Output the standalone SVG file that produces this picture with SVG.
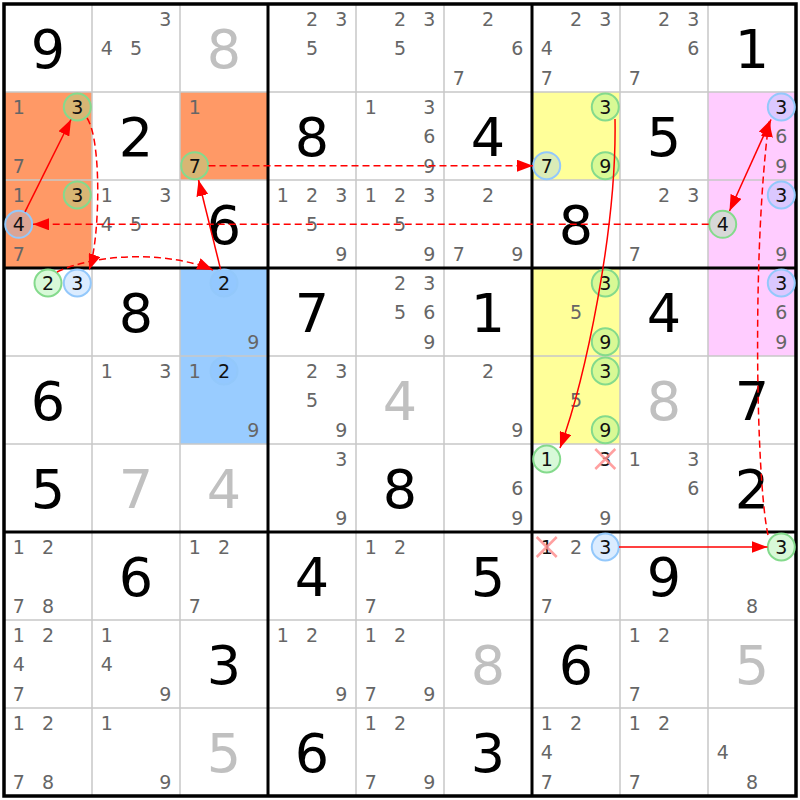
<svg xmlns="http://www.w3.org/2000/svg" width="800" height="800" viewBox="0 0 800 800">
<style>
text{font-family:"DejaVu Sans",Verdana,sans-serif;text-anchor:middle}
.c{font-size:19px;fill:#666}
.h{fill:#111}
.v{font-size:54px;fill:#000}
.g{font-size:54px;fill:#c0c0c0}
.gr{fill:#90ee90;fill-opacity:.35;stroke:#84da8c;stroke-width:2}
.bl{fill:#87bfff;fill-opacity:.3;stroke:#93c8fb;stroke-width:2}
.x{stroke:#ff8f8f;stroke-width:2.5;stroke-opacity:.85}
.thin{stroke:#c8c8c8;stroke-width:1.5}
.thick{stroke:#000;stroke-width:3}
.a{stroke:#f00;stroke-width:1.5;fill:none}
.d{stroke:#f00;stroke-width:1.5;fill:none;stroke-dasharray:7 4}
</style>
<defs>
<marker id="ah" markerUnits="userSpaceOnUse" markerWidth="16" markerHeight="12" refX="16" refY="6" orient="auto-start-reverse"><path d="M0,0 L16,6 L0,12 z" fill="#f00"/></marker>
</defs>
<rect width="800" height="800" fill="#fff"/>
<g id="fills">
<rect x="4" y="92" width="88" height="176" fill="#ff9966"/>
<rect x="180" y="92" width="88" height="88" fill="#ff9966"/>
<rect x="532" y="92" width="88" height="88" fill="#ffff99"/>
<rect x="532" y="268" width="88" height="176" fill="#ffff99"/>
<rect x="708" y="92" width="88" height="264" fill="#ffccff"/>
<rect x="180" y="268" width="88" height="176" fill="#99ccff"/>
</g>
<g id="grid">
<path class="thin" d="M92 4V796M180 4V796M356 4V796M444 4V796M620 4V796M708 4V796M4 92H796M4 180H796M4 356H796M4 444H796M4 620H796M4 708H796"/>
<path class="thick" d="M268 4V796M532 4V796M4 268H796M4 532H796"/>
<rect x="4" y="4" width="792" height="792" fill="none" stroke="#000" stroke-width="3.5"/>
</g>
<!-- Row 0 -->
<g id="r0c0" transform="translate(4,4)"><text class="v" x="44" y="64">9</text></g>
<g id="r0c1" transform="translate(92,4)"><text class="c" x="73.3" y="22">3</text><text class="c" x="14.7" y="51.3">4</text><text class="c" x="44" y="51.3">5</text></g>
<g id="r0c2" transform="translate(180,4)"><text class="g" x="44" y="64">8</text></g>
<g id="r0c3" transform="translate(268,4)"><text class="c" x="44" y="22">2</text><text class="c" x="73.3" y="22">3</text><text class="c" x="44" y="51.3">5</text></g>
<g id="r0c4" transform="translate(356,4)"><text class="c" x="44" y="22">2</text><text class="c" x="73.3" y="22">3</text><text class="c" x="44" y="51.3">5</text></g>
<g id="r0c5" transform="translate(444,4)"><text class="c" x="44" y="22">2</text><text class="c" x="73.3" y="51.3">6</text><text class="c" x="14.7" y="80.7">7</text></g>
<g id="r0c6" transform="translate(532,4)"><text class="c" x="44" y="22">2</text><text class="c" x="73.3" y="22">3</text><text class="c" x="14.7" y="51.3">4</text><text class="c" x="14.7" y="80.7">7</text></g>
<g id="r0c7" transform="translate(620,4)"><text class="c" x="44" y="22">2</text><text class="c" x="73.3" y="22">3</text><text class="c" x="73.3" y="51.3">6</text><text class="c" x="14.7" y="80.7">7</text></g>
<g id="r0c8" transform="translate(708,4)"><text class="v" x="44" y="64">1</text></g>
<!-- Row 1 -->
<g id="r1c0" transform="translate(4,92)"><text class="c" x="14.7" y="22">1</text><circle class="gr" cx="73.3" cy="15" r="13.5"/><text class="c h" x="73.3" y="22">3</text><text class="c" x="14.7" y="80.7">7</text></g>
<g id="r1c1" transform="translate(92,92)"><text class="v" x="44" y="64">2</text></g>
<g id="r1c2" transform="translate(180,92)"><text class="c" x="14.7" y="22">1</text><circle class="gr" cx="14.7" cy="73.7" r="13.5"/><text class="c h" x="14.7" y="80.7">7</text></g>
<g id="r1c3" transform="translate(268,92)"><text class="v" x="44" y="64">8</text></g>
<g id="r1c4" transform="translate(356,92)"><text class="c" x="14.7" y="22">1</text><text class="c" x="73.3" y="22">3</text><text class="c" x="73.3" y="51.3">6</text><text class="c" x="73.3" y="80.7">9</text></g>
<g id="r1c5" transform="translate(444,92)"><text class="v" x="44" y="64">4</text></g>
<g id="r1c6" transform="translate(532,92)"><circle class="gr" cx="73.3" cy="15" r="13.5"/><text class="c h" x="73.3" y="22">3</text><circle class="bl" cx="14.7" cy="73.7" r="13.5"/><text class="c h" x="14.7" y="80.7">7</text><circle class="gr" cx="73.3" cy="73.7" r="13.5"/><text class="c h" x="73.3" y="80.7">9</text></g>
<g id="r1c7" transform="translate(620,92)"><text class="v" x="44" y="64">5</text></g>
<g id="r1c8" transform="translate(708,92)"><circle class="bl" cx="73.3" cy="15" r="13.5"/><text class="c h" x="73.3" y="22">3</text><text class="c" x="73.3" y="51.3">6</text><text class="c" x="73.3" y="80.7">9</text></g>
<!-- Row 2 -->
<g id="r2c0" transform="translate(4,180)"><text class="c" x="14.7" y="22">1</text><circle class="gr" cx="73.3" cy="15" r="13.5"/><text class="c h" x="73.3" y="22">3</text><circle class="bl" cx="14.7" cy="44.3" r="13.5"/><text class="c h" x="14.7" y="51.3">4</text><text class="c" x="14.7" y="80.7">7</text></g>
<g id="r2c1" transform="translate(92,180)"><text class="c" x="14.7" y="22">1</text><text class="c" x="73.3" y="22">3</text><text class="c" x="14.7" y="51.3">4</text><text class="c" x="44" y="51.3">5</text></g>
<g id="r2c2" transform="translate(180,180)"><text class="v" x="44" y="64">6</text></g>
<g id="r2c3" transform="translate(268,180)"><text class="c" x="14.7" y="22">1</text><text class="c" x="44" y="22">2</text><text class="c" x="73.3" y="22">3</text><text class="c" x="44" y="51.3">5</text><text class="c" x="73.3" y="80.7">9</text></g>
<g id="r2c4" transform="translate(356,180)"><text class="c" x="14.7" y="22">1</text><text class="c" x="44" y="22">2</text><text class="c" x="73.3" y="22">3</text><text class="c" x="44" y="51.3">5</text><text class="c" x="73.3" y="80.7">9</text></g>
<g id="r2c5" transform="translate(444,180)"><text class="c" x="44" y="22">2</text><text class="c" x="14.7" y="80.7">7</text><text class="c" x="73.3" y="80.7">9</text></g>
<g id="r2c6" transform="translate(532,180)"><text class="v" x="44" y="64">8</text></g>
<g id="r2c7" transform="translate(620,180)"><text class="c" x="44" y="22">2</text><text class="c" x="73.3" y="22">3</text><text class="c" x="14.7" y="80.7">7</text></g>
<g id="r2c8" transform="translate(708,180)"><circle class="bl" cx="73.3" cy="15" r="13.5"/><text class="c h" x="73.3" y="22">3</text><circle class="gr" cx="14.7" cy="44.3" r="13.5"/><text class="c h" x="14.7" y="51.3">4</text><text class="c" x="73.3" y="80.7">9</text></g>
<!-- Row 3 -->
<g id="r3c0" transform="translate(4,268)"><circle class="gr" cx="44" cy="15" r="13.5"/><text class="c h" x="44" y="22">2</text><circle class="bl" cx="73.3" cy="15" r="13.5"/><text class="c h" x="73.3" y="22">3</text></g>
<g id="r3c1" transform="translate(92,268)"><text class="v" x="44" y="64">8</text></g>
<g id="r3c2" transform="translate(180,268)"><circle class="bl" cx="44" cy="15" r="13.5"/><text class="c h" x="44" y="22">2</text><text class="c" x="73.3" y="80.7">9</text></g>
<g id="r3c3" transform="translate(268,268)"><text class="v" x="44" y="64">7</text></g>
<g id="r3c4" transform="translate(356,268)"><text class="c" x="44" y="22">2</text><text class="c" x="73.3" y="22">3</text><text class="c" x="44" y="51.3">5</text><text class="c" x="73.3" y="51.3">6</text><text class="c" x="73.3" y="80.7">9</text></g>
<g id="r3c5" transform="translate(444,268)"><text class="v" x="44" y="64">1</text></g>
<g id="r3c6" transform="translate(532,268)"><circle class="gr" cx="73.3" cy="15" r="13.5"/><text class="c h" x="73.3" y="22">3</text><text class="c" x="44" y="51.3">5</text><circle class="gr" cx="73.3" cy="73.7" r="13.5"/><text class="c h" x="73.3" y="80.7">9</text></g>
<g id="r3c7" transform="translate(620,268)"><text class="v" x="44" y="64">4</text></g>
<g id="r3c8" transform="translate(708,268)"><circle class="bl" cx="73.3" cy="15" r="13.5"/><text class="c h" x="73.3" y="22">3</text><text class="c" x="73.3" y="51.3">6</text><text class="c" x="73.3" y="80.7">9</text></g>
<!-- Row 4 -->
<g id="r4c0" transform="translate(4,356)"><text class="v" x="44" y="64">6</text></g>
<g id="r4c1" transform="translate(92,356)"><text class="c" x="14.7" y="22">1</text><text class="c" x="73.3" y="22">3</text></g>
<g id="r4c2" transform="translate(180,356)"><text class="c" x="14.7" y="22">1</text><circle class="bl" cx="44" cy="15" r="13.5"/><text class="c h" x="44" y="22">2</text><text class="c" x="73.3" y="80.7">9</text></g>
<g id="r4c3" transform="translate(268,356)"><text class="c" x="44" y="22">2</text><text class="c" x="73.3" y="22">3</text><text class="c" x="44" y="51.3">5</text><text class="c" x="73.3" y="80.7">9</text></g>
<g id="r4c4" transform="translate(356,356)"><text class="g" x="44" y="64">4</text></g>
<g id="r4c5" transform="translate(444,356)"><text class="c" x="44" y="22">2</text><text class="c" x="73.3" y="80.7">9</text></g>
<g id="r4c6" transform="translate(532,356)"><circle class="gr" cx="73.3" cy="15" r="13.5"/><text class="c h" x="73.3" y="22">3</text><text class="c" x="44" y="51.3">5</text><circle class="gr" cx="73.3" cy="73.7" r="13.5"/><text class="c h" x="73.3" y="80.7">9</text></g>
<g id="r4c7" transform="translate(620,356)"><text class="g" x="44" y="64">8</text></g>
<g id="r4c8" transform="translate(708,356)"><text class="v" x="44" y="64">7</text></g>
<!-- Row 5 -->
<g id="r5c0" transform="translate(4,444)"><text class="v" x="44" y="64">5</text></g>
<g id="r5c1" transform="translate(92,444)"><text class="g" x="44" y="64">7</text></g>
<g id="r5c2" transform="translate(180,444)"><text class="g" x="44" y="64">4</text></g>
<g id="r5c3" transform="translate(268,444)"><text class="c" x="73.3" y="22">3</text><text class="c" x="73.3" y="80.7">9</text></g>
<g id="r5c4" transform="translate(356,444)"><text class="v" x="44" y="64">8</text></g>
<g id="r5c5" transform="translate(444,444)"><text class="c" x="73.3" y="51.3">6</text><text class="c" x="73.3" y="80.7">9</text></g>
<g id="r5c6" transform="translate(532,444)"><circle class="gr" cx="14.7" cy="15" r="13.5"/><text class="c h" x="14.7" y="22">1</text><text class="c h" x="73.3" y="22">3</text><path class="x" d="M63.3 5L83.3 25M83.3 5L63.3 25"/><text class="c" x="73.3" y="80.7">9</text></g>
<g id="r5c7" transform="translate(620,444)"><text class="c" x="14.7" y="22">1</text><text class="c" x="73.3" y="22">3</text><text class="c" x="73.3" y="51.3">6</text></g>
<g id="r5c8" transform="translate(708,444)"><text class="v" x="44" y="64">2</text></g>
<!-- Row 6 -->
<g id="r6c0" transform="translate(4,532)"><text class="c" x="14.7" y="22">1</text><text class="c" x="44" y="22">2</text><text class="c" x="14.7" y="80.7">7</text><text class="c" x="44" y="80.7">8</text></g>
<g id="r6c1" transform="translate(92,532)"><text class="v" x="44" y="64">6</text></g>
<g id="r6c2" transform="translate(180,532)"><text class="c" x="14.7" y="22">1</text><text class="c" x="44" y="22">2</text><text class="c" x="14.7" y="80.7">7</text></g>
<g id="r6c3" transform="translate(268,532)"><text class="v" x="44" y="64">4</text></g>
<g id="r6c4" transform="translate(356,532)"><text class="c" x="14.7" y="22">1</text><text class="c" x="44" y="22">2</text><text class="c" x="14.7" y="80.7">7</text></g>
<g id="r6c5" transform="translate(444,532)"><text class="v" x="44" y="64">5</text></g>
<g id="r6c6" transform="translate(532,532)"><text class="c h" x="14.7" y="22">1</text><path class="x" d="M4.7 5L24.7 25M24.7 5L4.7 25"/><text class="c" x="44" y="22">2</text><circle class="bl" cx="73.3" cy="15" r="13.5"/><text class="c h" x="73.3" y="22">3</text><text class="c" x="14.7" y="80.7">7</text></g>
<g id="r6c7" transform="translate(620,532)"><text class="v" x="44" y="64">9</text></g>
<g id="r6c8" transform="translate(708,532)"><circle class="gr" cx="73.3" cy="15" r="13.5"/><text class="c h" x="73.3" y="22">3</text><text class="c" x="44" y="80.7">8</text></g>
<!-- Row 7 -->
<g id="r7c0" transform="translate(4,620)"><text class="c" x="14.7" y="22">1</text><text class="c" x="44" y="22">2</text><text class="c" x="14.7" y="51.3">4</text><text class="c" x="14.7" y="80.7">7</text></g>
<g id="r7c1" transform="translate(92,620)"><text class="c" x="14.7" y="22">1</text><text class="c" x="14.7" y="51.3">4</text><text class="c" x="73.3" y="80.7">9</text></g>
<g id="r7c2" transform="translate(180,620)"><text class="v" x="44" y="64">3</text></g>
<g id="r7c3" transform="translate(268,620)"><text class="c" x="14.7" y="22">1</text><text class="c" x="44" y="22">2</text><text class="c" x="73.3" y="80.7">9</text></g>
<g id="r7c4" transform="translate(356,620)"><text class="c" x="14.7" y="22">1</text><text class="c" x="44" y="22">2</text><text class="c" x="14.7" y="80.7">7</text><text class="c" x="73.3" y="80.7">9</text></g>
<g id="r7c5" transform="translate(444,620)"><text class="g" x="44" y="64">8</text></g>
<g id="r7c6" transform="translate(532,620)"><text class="v" x="44" y="64">6</text></g>
<g id="r7c7" transform="translate(620,620)"><text class="c" x="14.7" y="22">1</text><text class="c" x="44" y="22">2</text><text class="c" x="14.7" y="80.7">7</text></g>
<g id="r7c8" transform="translate(708,620)"><text class="g" x="44" y="64">5</text></g>
<!-- Row 8 -->
<g id="r8c0" transform="translate(4,708)"><text class="c" x="14.7" y="22">1</text><text class="c" x="44" y="22">2</text><text class="c" x="14.7" y="80.7">7</text><text class="c" x="44" y="80.7">8</text></g>
<g id="r8c1" transform="translate(92,708)"><text class="c" x="14.7" y="22">1</text><text class="c" x="73.3" y="80.7">9</text></g>
<g id="r8c2" transform="translate(180,708)"><text class="g" x="44" y="64">5</text></g>
<g id="r8c3" transform="translate(268,708)"><text class="v" x="44" y="64">6</text></g>
<g id="r8c4" transform="translate(356,708)"><text class="c" x="14.7" y="22">1</text><text class="c" x="44" y="22">2</text><text class="c" x="14.7" y="80.7">7</text><text class="c" x="73.3" y="80.7">9</text></g>
<g id="r8c5" transform="translate(444,708)"><text class="v" x="44" y="64">3</text></g>
<g id="r8c6" transform="translate(532,708)"><text class="c" x="14.7" y="22">1</text><text class="c" x="44" y="22">2</text><text class="c" x="14.7" y="51.3">4</text><text class="c" x="14.7" y="80.7">7</text></g>
<g id="r8c7" transform="translate(620,708)"><text class="c" x="14.7" y="22">1</text><text class="c" x="44" y="22">2</text><text class="c" x="14.7" y="80.7">7</text></g>
<g id="r8c8" transform="translate(708,708)"><text class="c" x="14.7" y="51.3">4</text><text class="c" x="44" y="80.7">8</text></g>
<g id="connectors">
<path class="a" marker-end="url(#ah)" d="M25 211.8L71 119.5"/>
<path class="d" marker-end="url(#ah)" d="M87 118C102 140 100 240 89 270"/>
<path class="d" marker-end="url(#ah)" d="M57 272C100 252 170 252 213 270"/>
<path class="a" marker-end="url(#ah)" d="M220.6 269.4L198.5 180"/>
<path class="d" marker-end="url(#ah)" d="M208.5 165.7L533 165.7"/>
<path class="a" marker-end="url(#ah)" d="M615 119C617 230 585 380 560 448"/>
<path class="d" marker-end="url(#ah)" d="M708.7 224.3L33 224.3"/>
<path class="a" marker-start="url(#ah)" marker-end="url(#ah)" d="M771 119.5L729.5 211"/>
<path class="d" marker-end="url(#ah)" d="M768 535C756 480 752 250 769 121"/>
<path class="a" marker-end="url(#ah)" d="M619 547L767.5 547"/>
</g>
</svg>
